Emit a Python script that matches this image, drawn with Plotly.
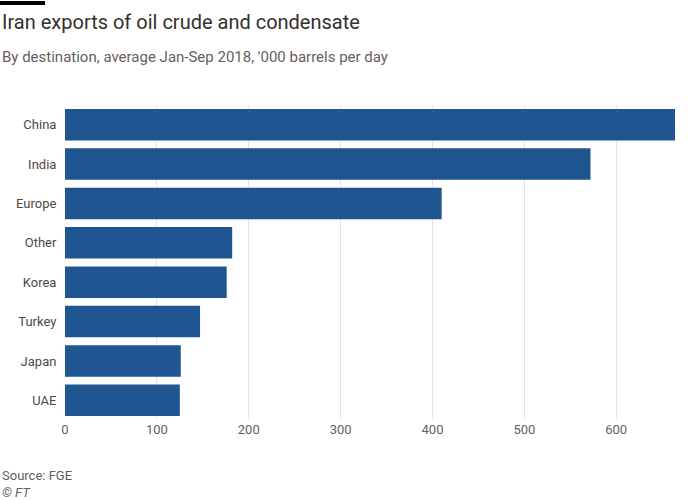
import plotly.graph_objects as go

categories = ["China", "India", "Europe", "Other", "Korea", "Turkey", "Japan", "UAE"]
values = [664, 572, 410, 182, 176, 147, 126, 125]
ticks = [0, 100, 200, 300, 400, 500, 600]

W = 610; H = 315
fig = go.Figure(go.Bar(
    x=values, y=categories, orientation="h",
    marker=dict(color="#1f5590", line=dict(width=0)), width=0.8,
))
fig.update_layout(
    width=700, height=500, paper_bgcolor="white", plot_bgcolor="white",
    margin=dict(l=65, r=25, t=105, b=80, autoexpand=False),
    font=dict(family="Roboto, sans-serif", color="#66605c", size=13),
    showlegend=False,
    xaxis=dict(range=[0, 664], tickvals=ticks, showgrid=True, gridcolor="#e6e3e0", automargin=False,
               zeroline=False, showline=False, ticks="", tickfont=dict(size=13, color="#66605c")),
    yaxis=dict(autorange="reversed", showgrid=False, ticks="outside", ticklen=5, tickcolor="white",
               automargin=False, tickfont=dict(size=13, color="#4d4845")),
    shapes=[dict(type="rect", xref="paper", yref="paper", x0=-65/W, x1=-20/W,
                 y0=1+100/H, y1=1+104/H, fillcolor="black", line=dict(width=0))],
    annotations=[
        dict(text="Iran exports of oil crude and condensate", xref="paper", yref="paper",
             x=-65/W, y=1+83/H, xanchor="left", yanchor="middle", showarrow=False,
             font=dict(size=20, color="#33302e")),
        dict(text="By destination, average Jan-Sep 2018, '000 barrels per day", xref="paper", yref="paper",
             x=-65/W, y=1+48/H, xanchor="left", yanchor="middle", showarrow=False,
             font=dict(size=15, color="#66605c")),
        dict(text="Source: FGE", xref="paper", yref="paper", x=-65/W, y=-55/H,
             xanchor="left", yanchor="middle", showarrow=False, font=dict(size=13, color="#66605c")),
        dict(text="<i>© FT</i>", xref="paper", yref="paper", x=-65/W, y=-72/H,
             xanchor="left", yanchor="middle", showarrow=False, font=dict(size=13, color="#66605c")),
    ],
)
fig.write_html("out.html", config={"displayModeBar": False},
               post_script="document.body.style.margin='0';")
